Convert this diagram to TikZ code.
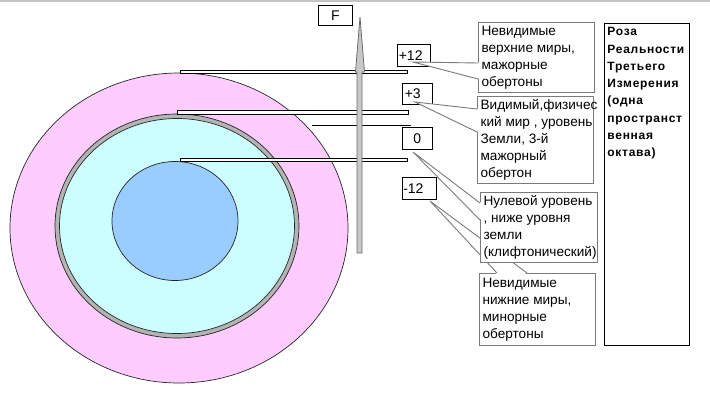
\documentclass[tikz,border=0pt]{standalone}
\usepackage{fontspec}
\setmainfont{Liberation Sans}
\newfontfamily\rosefont[LetterSpace=6]{Liberation Sans}
\usetikzlibrary{calc}
\definecolor{pinkfill}{HTML}{FFCCFF}
\definecolor{cyanfill}{HTML}{CCFFFF}
\definecolor{bluefill}{HTML}{99CCFF}
\definecolor{ringgray}{HTML}{B4B4B4}
\definecolor{calloutgray}{HTML}{7A7A7A}
\definecolor{arrowgray}{HTML}{C8C8C8}
\definecolor{arrowline}{HTML}{6A6A6A}
\definecolor{edgegray}{HTML}{C4C4C4}
\newcommand\textlines[2]{\parbox{#1}{\begin{tabular}{@{}l@{}}#2\end{tabular}}}
\begin{document}
\begin{tikzpicture}[x=1pt,y=-1pt,
  ring/.style={draw=black!85,line width=0.7pt},
  bar/.style={draw=black,fill=white,line width=0.6pt},
  lbl/.style={draw=black,fill=white,line width=0.6pt,anchor=north west,inner sep=0pt,
    font=\fontsize{14}{16}\selectfont},
  callout/.style={draw=calloutgray,fill=white,line width=1.2pt,anchor=north west,
    inner xsep=3pt,inner ysep=0pt,font=\fontsize{13.6}{17}\selectfont},
  wedge/.style={draw=calloutgray,line width=0.9pt},
  rosebox/.style={draw=black,fill=white,line width=0.9pt,anchor=north west,inner sep=0pt}
]
\useasboundingbox (0,0) rectangle (710,405);
\draw[edgegray,line width=1.5pt] (0,0.75) -- (710,0.75);

% ellipses
\draw[ring,fill=pinkfill] (179,228) ellipse [x radius=169,y radius=155];
\draw[ring,fill=ringgray] (177,226) ellipse [x radius=122,y radius=112];
\draw[ring,fill=cyanfill] (177,226) ellipse [x radius=117.5,y radius=107.5];
\draw[ring,fill=bluefill] (175,221) ellipse [x radius=63,y radius=59.5];

% bars
\draw[bar] (180,70) rectangle (407,73.5);
\draw[bar] (177,110.5) rectangle (408,114);
\draw[black,line width=0.6pt] (312,125) -- (411,125);
\draw[bar] (180,158) rectangle (407,161.5);

% vertical arrow F
\draw[draw=arrowline,fill=arrowgray,line width=0.8pt]
  (357,253) -- (357,72) -- (355.5,72) -- (360,17) -- (364.5,72) -- (362,72) -- (362,253) -- cycle;

% small labels
\node[lbl,minimum width=34pt,minimum height=20pt] (F) at (318,5) {F};
\node[lbl,minimum width=33pt,minimum height=22pt,text width=33pt,align=left] (p12) at (397,44) {\hspace{1.5pt}+12};
\node[lbl,minimum width=30pt,minimum height=21pt,text width=30pt,align=left] (p3) at (402,83) {\hspace{2.5pt}+3};
\node[lbl,minimum width=30pt,minimum height=22pt] (z0) at (402,127) {0};
\node[lbl,minimum width=34pt,minimum height=22pt,text width=34pt,align=left] (m12) at (402,177) {\hspace{1pt}-12};

\coordinate (t12) at (413,62);
\coordinate (t3) at (415,102);
\coordinate (t0) at (413,152);
\coordinate (tm12) at (430,201);

% callout 4: lower invisible worlds
\node[callout,minimum width=116pt,minimum height=72pt] (c4) at (479,273)
  {\textlines{110pt}{Невидимые\\нижние миры,\\минорные\\обертоны}};
\fill[white] (tm12) -- ($(c4.north west)+(18,1.5)$) -- ($(c4.north west)+(48,1.5)$) -- cycle;
\draw[wedge] ($(c4.north west)+(18,0)$) -- (tm12) -- ($(c4.north west)+(48,0)$);

% callout 3: zero level
\node[callout,minimum width=117pt,minimum height=70pt] (c3) at (480,192)
  {\textlines{111pt}{Нулевой уровень\\, ниже уровня\\земли\\(клифтонический)}};
\fill[white] (t0) -- ($(c3.north west)+(1.5,11)$) -- ($(c3.north west)+(1.5,28)$) -- cycle;
\draw[wedge] ($(c3.north west)+(0,11)$) -- (t0) -- ($(c3.north west)+(0,28)$);

% callout 2: visible world
\node[callout,minimum width=116pt,minimum height=87pt] (c2) at (477,96)
  {\textlines{110pt}{Видимый,физичес\\кий мир , уровень\\Земли, 3-й\\мажорный\\обертон}};
\fill[white] (t3) -- ($(c2.north west)+(1.5,13)$) -- ($(c2.north west)+(1.5,36)$) -- cycle;
\draw[wedge] ($(c2.north west)+(0,13)$) -- (t3) -- ($(c2.north west)+(0,36)$);

% callout 1: upper invisible worlds
\node[callout,minimum width=116pt,minimum height=70pt] (c1) at (478,22)
  {\textlines{110pt}{Невидимые\\верхние миры,\\мажорные\\обертоны}};
\fill[white] (t12) -- ($(c1.north west)+(1.5,41)$) -- ($(c1.north west)+(1.5,57)$) -- cycle;
\draw[wedge] ($(c1.north west)+(0,41)$) -- (t12) -- ($(c1.north west)+(0,57)$);

% right box
\node[rosebox] (rose) at (604,23)
  {\parbox[c][322pt][t]{85pt}{\vspace{4pt}\hspace*{3pt}\parbox[t]{80pt}{\raggedright
   \rosefont\bfseries\fontsize{12}{17.3}\selectfont
   Роза\\Реальности\\Третьего\\Измерения\\(одна\\пространст\\венная\\октава)}}};
\end{tikzpicture}
\end{document}
